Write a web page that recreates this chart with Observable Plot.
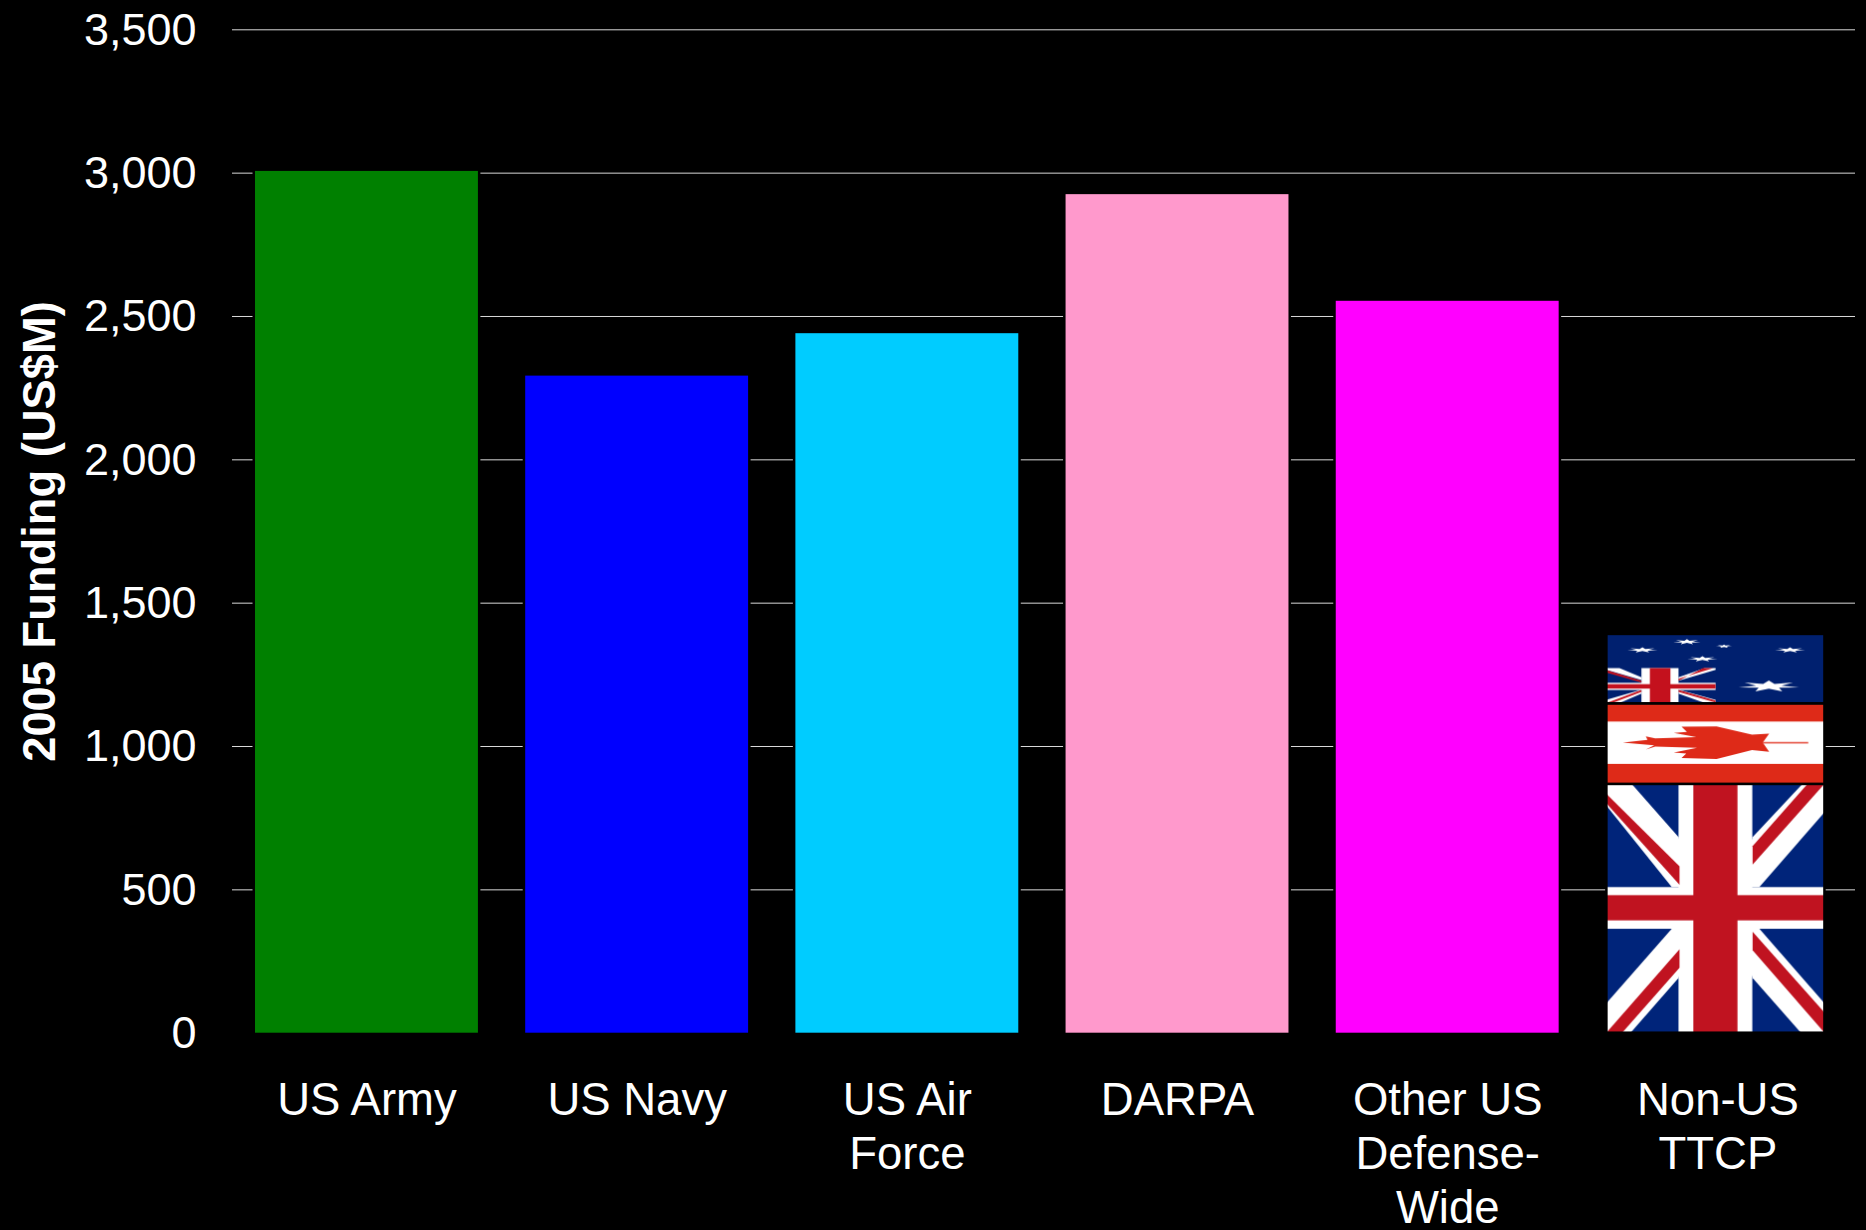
<!DOCTYPE html>
<html>
<head>
<meta charset="utf-8">
<style>html,body{margin:0;padding:0;background:#000;overflow:hidden}svg{display:block}</style>
<script src="https://cdn.jsdelivr.net/npm/d3@7"></script>
<script src="https://cdn.jsdelivr.net/npm/@observablehq/plot@0.6"></script>
</head>
<body>
<script>
const categories = ["US Army", "US Navy", "US Air\nForce", "DARPA", "Other US\nDefense-\nWide", "Non-US\nTTCP"];
const funding = [3006, 2292, 2440, 2925, 2553];
const barColors = ["#008000", "#0000ff", "#00ccff", "#ff99cc", "#ff00ff"];
const flagNames = ["uk", "canada", "australia"];
const flagFrom = [0, 868, 1149];
const flagTo = [868, 1149, 1391];
const yTicks = [0, 500, 1000, 1500, 2000, 2500, 3000, 3500];
const nonUS = categories[5];

function star(cx, cy, rx, ry) {
  const p = [];
  for (let i = 0; i < 14; i++) {
    const a = -Math.PI / 2 + i * Math.PI / 7, r = i % 2 ? 0.42 : 1;
    p.push(`${cx + Math.cos(a) * rx * r},${cy + Math.sin(a) * ry * r}`);
  }
  return `<polygon fill="#fff" points="${p.join(" ")}"/>`;
}
const patternDefs = `<defs>
<pattern id="uk" patternUnits="objectBoundingBox" width="1" height="1" viewBox="83 45 647 740" preserveAspectRatio="none">
  <rect x="83" y="45" width="647" height="740" fill="#00247a"/>
  <g fill="#fff">
    <polygon points="83,45 158,45 297,203 341,352 277,352 83,110"/>
    <polygon points="665,45 730,45 730,130 537,352 472,352 517,203"/>
    <polygon points="83,697 277,476 341,476 297,622 155,785 83,785"/>
    <polygon points="537,476 730,697 730,785 660,785 517,622 472,476"/>
    <rect x="297" y="45" width="219" height="740"/>
    <rect x="83" y="352" width="647" height="124"/>
  </g>
  <g fill="#c01320">
    <polygon points="83,75 300,290 300,345 83,103"/>
    <polygon points="680,45 730,45 517,285 517,230"/>
    <polygon points="83,785 130,785 300,592 300,537"/>
    <polygon points="517,485 730,725 730,785 517,540"/>
    <rect x="341" y="45" width="131" height="740"/>
    <rect x="83" y="376" width="647" height="75"/>
  </g>
</pattern>
<pattern id="canada" patternUnits="objectBoundingBox" width="1" height="1" viewBox="83 254 647 234" preserveAspectRatio="none">
  <rect x="83" y="254" width="647" height="234" fill="#fff"/>
  <g fill="#de2a18">
    <rect x="83" y="254" width="647" height="53"/>
    <rect x="83" y="430" width="647" height="58"/>
    <polygon points="132,368 205,360 200,350 228,356 350,352 283,340 322,337 306,322 410,321 515,345 566,342 547,368 566,395 515,390 410,416 306,413 320,400 283,397 352,383 228,380 200,388 225,376"/>
    <rect x="547" y="366" width="135" height="5" opacity="0.75"/>
  </g>
</pattern>
<pattern id="australia" patternUnits="objectBoundingBox" width="1" height="1" viewBox="83 45 647 203" preserveAspectRatio="none">
  <rect x="83" y="45" width="647" height="203" fill="#00206f"/>
  <g fill="#fff">
    <polygon points="83,145 122,145 187,172 187,180 83,150"/>
    <polygon points="83,247 83,238 187,208 187,220 122,247"/>
    <polygon points="297,172 375,145 407,145 407,150 297,182"/>
    <polygon points="297,208 407,238 407,247 375,247 297,220"/>
    <rect x="187" y="145" width="110" height="103"/>
    <rect x="83" y="188" width="324" height="21"/>
  </g>
  <g fill="#c4111d">
    <polygon points="83,151 187,182 187,187 83,158"/>
    <polygon points="297,182 370,145 400,145 297,176"/>
    <polygon points="83,247 100,247 187,215 187,209"/>
    <polygon points="297,209 407,240 407,246 297,215"/>
    <rect x="212" y="145" width="61" height="103"/>
    <rect x="83" y="192" width="324" height="13"/>
  </g>
  ${star(190, 92, 46, 8)}${star(322, 68, 42, 8)}${star(432, 81, 25, 5)}${star(368, 118, 46, 8)}${star(628, 92, 46, 8)}${star(565, 198, 92, 17)}
</pattern>
</defs>`;

const bars = funding.map((v, i) => ({category: categories[i], value: v}));
const flags = flagNames.map((n, i) => ({category: nonUS, from: flagFrom[i], to: flagTo[i], name: n}));

const chart = Plot.plot({
  width: 1866,
  height: 1230,
  marginLeft: 232,
  marginRight: 11,
  marginTop: 29.3,
  marginBottom: 197.3,
  style: {background: "#000", color: "#fff", fontFamily: "'Liberation Sans', Arial, sans-serif"},
  x: {domain: categories, paddingInner: 0.175, paddingOuter: 0.091, align: 0.468, round: false, label: null},
  y: {domain: [0, 3500], label: null},
  color: {domain: categories.slice(0, 5), range: barColors},
  marks: [
    Plot.ruleY(yTicks.slice(1), {stroke: "#fff", strokeWidth: 1, strokeOpacity: 0.85}),
    Plot.barY(bars, {x: "category", y: "value", fill: "category", stroke: "#000", strokeWidth: 5, paintOrder: "stroke"}),
    ...flags.map(f => Plot.barY([f], {x: "category", y1: "from", y2: "to", fill: `url(#${f.name})`, stroke: "#000", strokeWidth: 2.5, insetLeft: 0.45, insetRight: 4.4})),
    Plot.axisY({ticks: yTicks, tickSize: 0, tickPadding: 36, fontSize: 45, dy: 0.5, tickFormat: d3.format(","), label: null}),
    Plot.axisX({tickSize: 0, tickPadding: 43, fontSize: 45.5, lineHeight: 1.19, textOverflow: null, label: null, lineAnchor: "top"}),
    Plot.text(["2005 Funding (US$M)"], {frameAnchor: "left", dx: -192, rotate: -90, fontSize: 45.3, fontWeight: "bold", fill: "#fff", textAnchor: "middle"})
  ]
});
chart.insertAdjacentHTML("afterbegin", patternDefs);
document.body.appendChild(chart);
</script>
</body>
</html>
